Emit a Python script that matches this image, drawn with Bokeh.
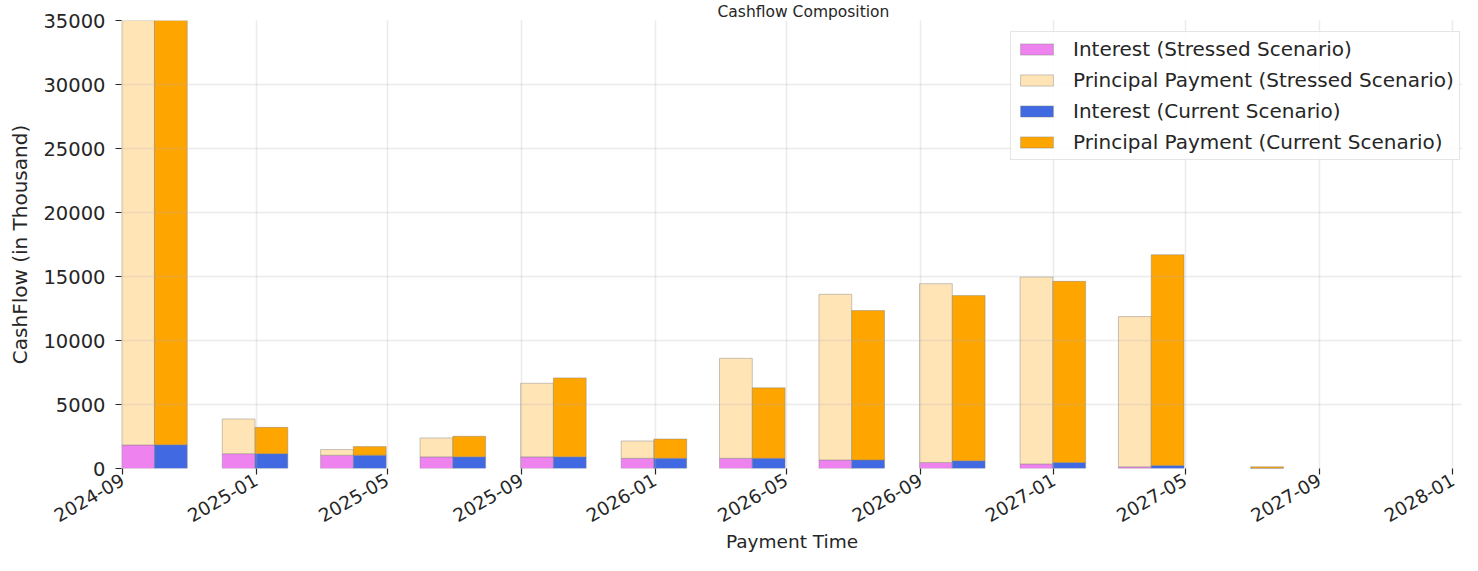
import pandas as pd
from bokeh.plotting import figure
from bokeh.models import (ColumnDataSource, Range1d, FixedTicker, DatetimeTickFormatter,
                          Legend, LegendItem)
from bokeh.embed import file_html
from bokeh.resources import INLINE
from math import pi

# ---------------- data ----------------
payment_dates = ["2024-09-30", "2024-12-31", "2025-03-31", "2025-06-30",
                 "2025-09-30", "2025-12-31", "2026-03-31", "2026-06-30",
                 "2026-09-30", "2026-12-31", "2027-03-31", "2027-06-30"]
stressed_interest = [1840, 1160, 1040, 910, 910, 800, 800, 670, 470, 360, 130, None]
stressed_principal = [38500, 2710, 440, 1480, 5750, 1350, 7810, 12940, 13970, 14600, 11740, None]
current_interest = [1850, 1160, 1040, 910, 910, 800, 800, 670, 600, 470, 230, 10]
current_principal = [38200, 2055, 670, 1605, 6170, 1507, 5500, 11670, 12907, 14152, 16467, 120]

x_tick_labels = ["2024-09", "2025-01", "2025-05", "2025-09", "2026-01", "2026-05",
                 "2026-09", "2027-01", "2027-05", "2027-09", "2028-01"]
y_ticks = [0, 5000, 10000, 15000, 20000, 25000, 30000, 35000]

TEXT = "#262626"
FONT = "DejaVu Sans"

dates = pd.to_datetime(payment_dates)
half = pd.Timedelta(days=15)
bar_width = 30 * 24 * 3600 * 1000  # ms

si = pd.Series(stressed_interest, dtype=float)
sp = pd.Series(stressed_principal, dtype=float)
ci = pd.Series(current_interest, dtype=float)
cp = pd.Series(current_principal, dtype=float)

src = ColumnDataSource(dict(
    xs=list(dates - half), xc=list(dates + half),
    si_top=list(si), sp_bottom=list(si), sp_top=list(si + sp),
    ci_top=list(ci), cp_bottom=list(ci), cp_top=list(ci + cp),
))

p = figure(width=1462, height=555, x_axis_type="datetime",
           x_range=Range1d(pd.Timestamp("2024-08-30 20:00"), pd.Timestamp("2028-01-09 20:00")),
           y_range=Range1d(0, 35000),
           output_backend="svg", toolbar_location=None,
           min_border_left=121, min_border_top=19, min_border_bottom=86, min_border_right=0,
           background_fill_color="white", border_fill_color="white", outline_line_color=None)

# title (reference has it squeezed against the top edge)
p.title.text = "Cashflow Composition"
p.title.align = "left"
p.title.offset = 596
p.title.standoff = 0
p.title.text_font = FONT
p.title.text_font_size = "15.5px"
p.title.text_font_style = "normal"
p.title.text_color = TEXT

edge = dict(line_color="#808080", line_alpha=0.55, line_width=0.8)
r_si = p.vbar(x="xs", width=bar_width, bottom=0, top="si_top", source=src,
              fill_color="#EE82EE", **edge)
r_sp = p.vbar(x="xs", width=bar_width, bottom="sp_bottom", top="sp_top", source=src,
              fill_color="#FFE4B5", **edge)
r_ci = p.vbar(x="xc", width=bar_width, bottom=0, top="ci_top", source=src,
              fill_color="#4169E1", **edge)
r_cp = p.vbar(x="xc", width=bar_width, bottom="cp_bottom", top="cp_top", source=src,
              fill_color="#FFA500", **edge)

# axes
p.xaxis.ticker = FixedTicker(ticks=[pd.Timestamp(t).value // 10**6 for t in x_tick_labels])
p.xaxis.formatter = DatetimeTickFormatter(
    milliseconds="%Y-%m", seconds="%Y-%m", minsec="%Y-%m", minutes="%Y-%m",
    hourmin="%Y-%m", hours="%Y-%m", days="%Y-%m", months="%Y-%m", years="%Y-%m")
p.yaxis.ticker = FixedTicker(ticks=y_ticks)

for ax in (p.xaxis, p.yaxis):
    ax.axis_line_color = None
    ax.minor_tick_line_color = None
    ax.major_tick_in = 0
    ax.major_tick_out = 6
    ax.major_tick_line_color = TEXT
    ax.major_tick_line_width = 1.2
    ax.major_label_text_font = FONT
    ax.major_label_text_color = TEXT
    ax.axis_label_text_font = FONT
    ax.axis_label_text_font_style = "normal"
    ax.axis_label_text_color = TEXT

p.yaxis.major_label_text_font_size = "19.5px"
p.yaxis.axis_label_text_font_size = "20px"
p.xaxis.major_label_text_font_size = "18.5px"
p.xaxis.axis_label_text_font_size = "18.5px"

p.xaxis.axis_label = "Payment Time"
p.yaxis.axis_label = "CashFlow (in Thousand)"
p.xaxis.major_label_orientation = pi / 6
p.xaxis.major_label_standoff = 4
p.xaxis.axis_label_standoff = 0
p.yaxis.major_label_standoff = 10
p.yaxis.axis_label_standoff = 8

# grid
p.grid.grid_line_color = "#b0b0b0"
p.grid.grid_line_alpha = 0.25
p.grid.grid_line_width = 1.5
p.grid.level = "guide"

# legend
legend = Legend(items=[
    LegendItem(label="Interest (Stressed Scenario)", renderers=[r_si]),
    LegendItem(label="Principal Payment (Stressed Scenario)", renderers=[r_sp]),
    LegendItem(label="Interest (Current Scenario)", renderers=[r_ci]),
    LegendItem(label="Principal Payment (Current Scenario)", renderers=[r_cp]),
], location=(889, 308))
legend.glyph_width = 41
legend.glyph_height = 14
legend.label_standoff = 16
legend.label_height = 23
legend.spacing = 7
legend.padding = 5
legend.margin = 0
legend.border_line_color = "#cccccc"
legend.border_line_width = 1
legend.background_fill_alpha = 0.85
legend.label_text_font = FONT
legend.label_text_font_size = "20px"
legend.label_text_color = TEXT
p.add_layout(legend)

open("out.html", "w").write(file_html(p, INLINE))
